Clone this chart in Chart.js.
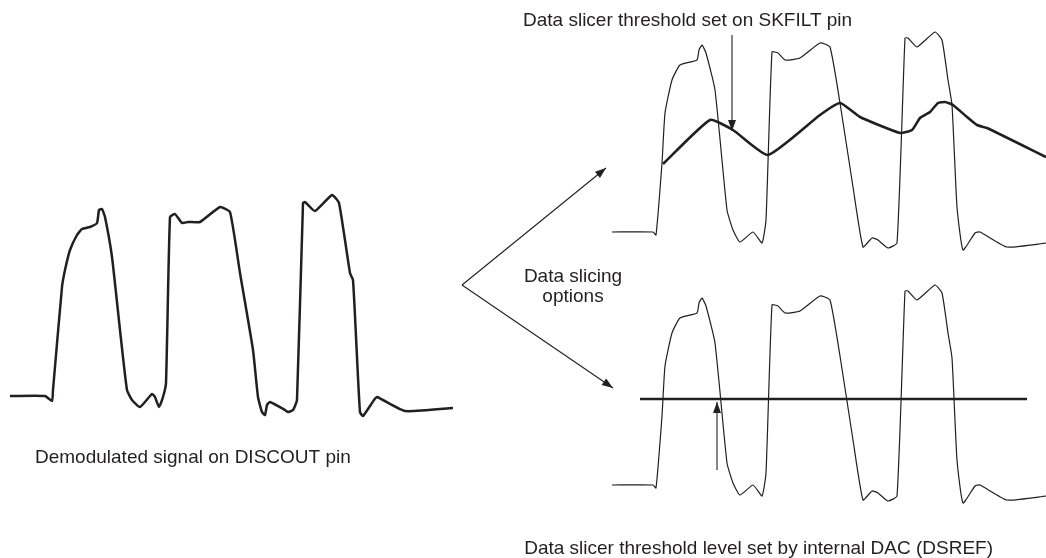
<!DOCTYPE html>
<html>
<head>
<meta charset="utf-8">
<script src="https://cdn.jsdelivr.net/npm/chart.js@4"></script>
<style>
  body { margin: 0; background: #fff; }
  #diagram { display: block; }
</style>
</head>
<body>
<canvas id="diagram" width="1046" height="558"></canvas>
<script>
// demodulated signal on DISCOUT (left)
const discoutX = [10, 45, 52, 53, 62, 65, 70, 77, 82, 90, 97, 99, 102, 105, 112, 120, 127, 132, 140, 152, 155, 159, 163, 166, 170, 175, 182, 188, 200, 220, 230, 240, 253, 258, 262, 265, 267, 270, 285, 288, 293, 297, 303, 305, 315, 332, 339, 350, 353, 357, 360, 363, 374, 377, 405, 453];
const discoutY = [396, 396, 401, 390, 287, 270, 250, 235, 229, 227, 223, 210, 209, 217, 257, 330, 390, 400, 407, 394, 397, 407, 397, 383, 217, 214, 223, 222, 222, 207, 212, 273, 350, 397, 412, 415, 405, 402, 410, 412, 410, 400, 203, 202, 211, 195, 203, 273, 280, 357, 412, 416, 400, 397, 411, 408];

// same signal, right side (top and bottom copies)
const sliceX = [612, 653, 656, 662, 665, 672, 680, 697, 699, 702, 706, 715, 727, 733, 740, 753, 762, 766, 772, 778, 785, 800, 820, 830, 840, 853, 863, 872, 878, 888, 897, 905, 908, 917, 935, 942, 948, 952, 957, 963, 975, 980, 1007, 1046];
const topY = [232, 232, 235, 163, 113, 80, 65, 60, 50, 45, 53, 90, 210, 230, 242, 232, 243, 220, 52, 53, 60, 58, 43, 47, 103, 187, 247, 238, 240, 248, 243, 38, 38, 47, 32, 40, 80, 105, 207, 250, 233, 232, 247, 243];
const bottomY = [485, 485, 488, 416, 366, 333, 318, 313, 303, 298, 306, 343, 463, 483, 495, 485, 496, 473, 305, 306, 313, 311, 296, 300, 356, 440, 500, 491, 493, 501, 496, 291, 291, 300, 285, 293, 333, 358, 460, 503, 486, 485, 500, 496];

// SKFILT threshold (thick curve)
const skfiltX = [663, 710, 733, 768, 820, 840, 860, 900, 912, 920, 930, 938, 945, 953, 967, 977, 987, 1046];
const skfiltY = [164, 120, 130, 155, 115, 103, 117, 133, 130, 118, 112, 103, 102, 105, 117, 125, 128, 157];

// DSREF threshold (flat line)
const dsrefX = [640, 1027];
const dsrefY = [399, 399];

// arrows: [x0, y0, x1, y1], head at the second point
const arrows = [
  [462, 285, 606, 168],
  [462, 285, 613, 388],
  [732, 35, 732, 131],
  [717, 470, 717, 402]
];

const labels = [
  { text: 'Data slicer threshold set on SKFILT pin', x: 523, y: 26, align: 'left' },
  { text: 'Data slicing', x: 573, y: 282, align: 'center' },
  { text: 'options', x: 573, y: 302, align: 'center' },
  { text: 'Demodulated signal on DISCOUT pin', x: 35, y: 463, align: 'left' },
  { text: 'Data slicer threshold level set by internal DAC (DSREF)', x: 993, y: 554, align: 'right' }
];

const ink = '#231f20';

function pts(xs, ys) {
  return xs.map((x, i) => ({ x: x, y: ys[i] }));
}

function line(xs, ys, width) {
  return {
    data: pts(xs, ys),
    showLine: true,
    borderColor: ink,
    borderWidth: width,
    pointRadius: 0,
    tension: 0.15,
    borderJoinStyle: 'round',
    borderCapStyle: 'butt'
  };
}

const datasets = [
  line(discoutX, discoutY, 2.5),
  line(sliceX, topY, 1.2),
  line(sliceX, bottomY, 1.2),
  line(skfiltX, skfiltY, 2.6),
  line(dsrefX, dsrefY, 2.6)
];
arrows.forEach(a => {
  const ds = line([a[0], a[2]], [a[1], a[3]], 1.1);
  ds.arrow = true;
  datasets.push(ds);
});

const decorations = {
  id: 'decorations',
  afterDatasetsDraw(chart) {
    const c = chart.ctx;
    const sx = chart.scales.x, sy = chart.scales.y;
    c.save();
    c.fillStyle = ink;
    // arrow heads
    chart.data.datasets.forEach(ds => {
      if (!ds.arrow) return;
      const p0 = ds.data[0], p1 = ds.data[1];
      const x0 = sx.getPixelForValue(p0.x), y0 = sy.getPixelForValue(p0.y);
      const x1 = sx.getPixelForValue(p1.x), y1 = sy.getPixelForValue(p1.y);
      const ang = Math.atan2(y1 - y0, x1 - x0);
      const len = 11, half = 4;
      c.beginPath();
      c.moveTo(x1, y1);
      c.lineTo(x1 - len * Math.cos(ang) + half * Math.sin(ang), y1 - len * Math.sin(ang) - half * Math.cos(ang));
      c.lineTo(x1 - len * Math.cos(ang) - half * Math.sin(ang), y1 - len * Math.sin(ang) + half * Math.cos(ang));
      c.closePath();
      c.fill();
    });
    // text
    c.font = '19px "Liberation Sans", Arial, sans-serif';
    c.textBaseline = 'alphabetic';
    labels.forEach(l => {
      c.textAlign = l.align;
      c.fillText(l.text, sx.getPixelForValue(l.x), sy.getPixelForValue(l.y));
    });
    c.restore();
  }
};

new Chart(document.getElementById('diagram'), {
  type: 'scatter',
  data: { datasets: datasets },
  options: {
    responsive: false,
    animation: false,
    layout: { padding: 0 },
    scales: {
      x: { type: 'linear', min: 0, max: 1046, display: false },
      y: { type: 'linear', min: 0, max: 558, reverse: true, display: false }
    },
    plugins: {
      legend: { display: false },
      tooltip: { enabled: false }
    }
  },
  plugins: [decorations]
});
</script>
</body>
</html>
